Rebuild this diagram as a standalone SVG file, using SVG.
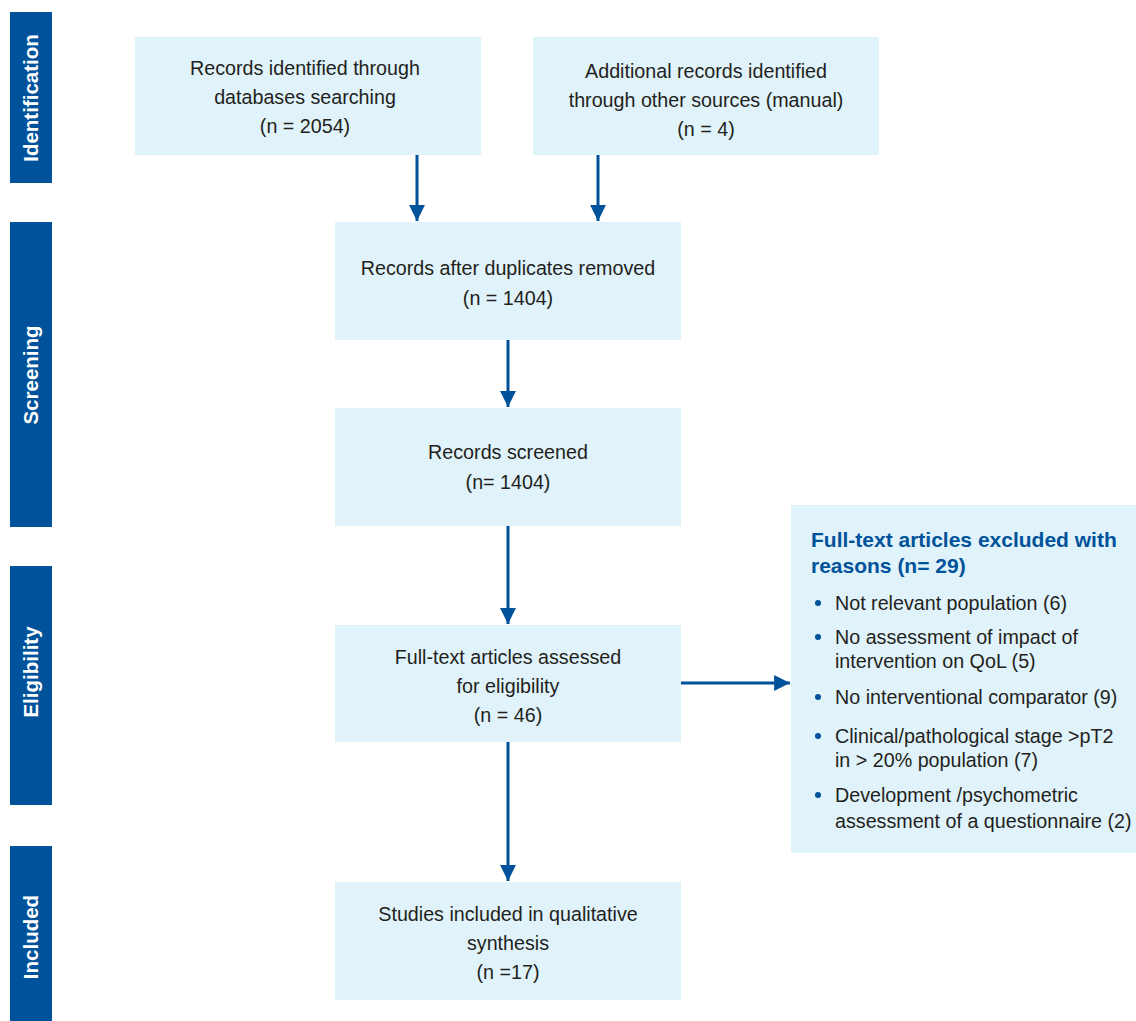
<svg xmlns="http://www.w3.org/2000/svg" width="1136" height="1021" viewBox="0 0 1136 1021">
<defs>
<style>
.side{fill:#00529b}
.sl{fill:#fff;font-family:"Liberation Sans",Arial,sans-serif;font-weight:bold;font-size:20.5px;text-anchor:middle}
.box{fill:#e0f2fa}
.t{fill:#231f20;font-family:"Liberation Sans",Arial,sans-serif;font-size:19.7px;text-anchor:middle}
.tl{fill:#231f20;font-family:"Liberation Sans",Arial,sans-serif;font-size:19.7px}
.h{fill:#00529b;font-family:"Liberation Sans",Arial,sans-serif;font-weight:bold;font-size:21px}
.bul{fill:#00529b}
.c{stroke:#00529b;stroke-width:3;fill:none}
</style>
<marker id="ah" viewBox="0 0 10 10" refX="10" refY="5" markerWidth="6" markerHeight="5.3" markerUnits="strokeWidth" orient="auto">
<path d="M0,0 L10,5 L0,10 Z" fill="#00529b"/>
</marker>
</defs>
<g id="sidebars">
<g id="side-identification"><rect class="side" x="10" y="12" width="42" height="171"/><text class="sl" transform="translate(38,98) rotate(-90)">Identification</text></g>
<g id="side-screening"><rect class="side" x="10" y="222" width="42" height="305"/><text class="sl" transform="translate(38,375) rotate(-90)">Screening</text></g>
<g id="side-eligibility"><rect class="side" x="10" y="566" width="42" height="239"/><text class="sl" transform="translate(38,672) rotate(-90)">Eligibility</text></g>
<g id="side-included"><rect class="side" x="10" y="846" width="42" height="175"/><text class="sl" transform="translate(38,937) rotate(-90)">Included</text></g>
</g>
<g id="n1"><rect class="box" x="135" y="37" width="346" height="118"/>
<text class="t" x="305" y="75">Records identified through</text><text class="t" x="305" y="104">databases searching</text><text class="t" x="305" y="133">(n = 2054)</text></g>
<g id="n2"><rect class="box" x="533" y="37" width="346" height="118"/>
<text class="t" x="706" y="78">Additional records identified</text><text class="t" x="706" y="107">through other sources (manual)</text><text class="t" x="706" y="136">(n = 4)</text></g>
<g id="n3"><rect class="box" x="335" y="222" width="346" height="118"/>
<text class="t" x="508" y="275">Records after duplicates removed</text><text class="t" x="508" y="305">(n = 1404)</text></g>
<g id="n4"><rect class="box" x="335" y="408" width="346" height="118"/>
<text class="t" x="508" y="459">Records screened</text><text class="t" x="508" y="489">(n= 1404)</text></g>
<g id="n5"><rect class="box" x="335" y="625" width="346" height="117"/>
<text class="t" x="508" y="664">Full-text articles assessed</text><text class="t" x="508" y="693">for eligibility</text><text class="t" x="508" y="722">(n = 46)</text></g>
<g id="n6"><rect class="box" x="335" y="882" width="346" height="118"/>
<text class="t" x="508" y="921">Studies included in qualitative</text><text class="t" x="508" y="950">synthesis</text><text class="t" x="508" y="979">(n =17)</text></g>
<g id="n7"><rect class="box" x="791" y="505" width="345" height="348"/>
<text class="h" x="811" y="547">Full-text articles excluded with</text><text class="h" x="811" y="573">reasons (n= 29)</text>
<circle class="bul" cx="818" cy="603" r="3"/><text class="tl" x="835" y="610">Not relevant population (6)</text>
<circle class="bul" cx="818" cy="637" r="3"/><text class="tl" x="835" y="644">No assessment of impact of</text><text class="tl" x="835" y="668">intervention on QoL (5)</text>
<circle class="bul" cx="818" cy="697" r="3"/><text class="tl" x="835" y="704">No interventional comparator (9)</text>
<circle class="bul" cx="818" cy="736" r="3"/><text class="tl" x="835" y="743">Clinical/pathological stage &gt;pT2</text><text class="tl" x="835" y="767">in &gt; 20% population (7)</text>
<circle class="bul" cx="818" cy="795" r="3"/><text class="tl" x="835" y="802">Development /psychometric</text><text class="tl" x="835" y="828">assessment of a questionnaire (2)</text>
</g>
<g id="connectors">
<line class="c" x1="417" y1="155" x2="417" y2="221" marker-end="url(#ah)"/>
<line class="c" x1="598" y1="155" x2="598" y2="221" marker-end="url(#ah)"/>
<line class="c" x1="508" y1="340" x2="508" y2="407" marker-end="url(#ah)"/>
<line class="c" x1="508" y1="526" x2="508" y2="624" marker-end="url(#ah)"/>
<line class="c" x1="508" y1="742" x2="508" y2="881" marker-end="url(#ah)"/>
<line class="c" x1="681" y1="683" x2="790" y2="683" marker-end="url(#ah)"/>
</g>
</svg>
